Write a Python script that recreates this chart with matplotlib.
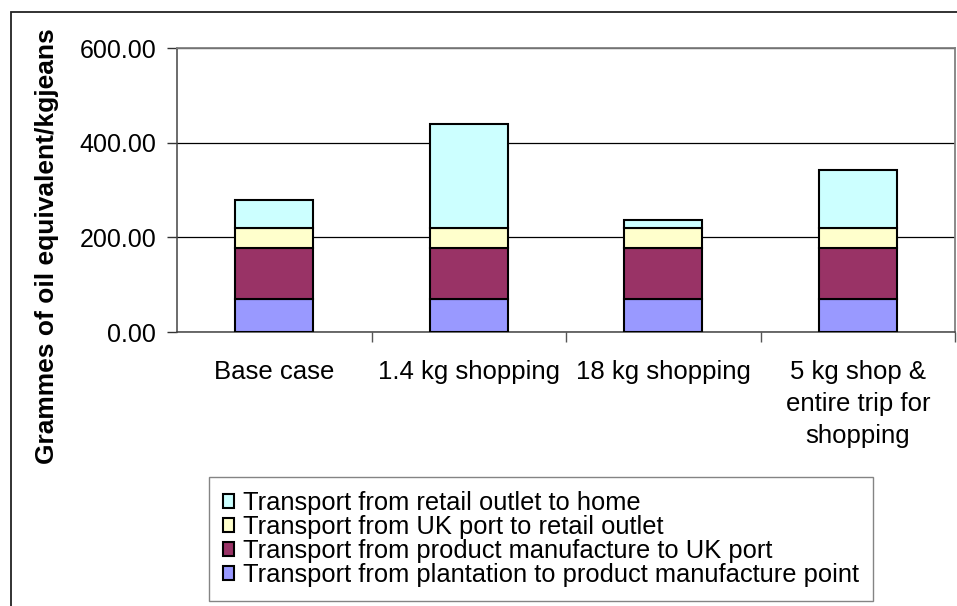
import numpy as np
import matplotlib.pyplot as plt
from matplotlib.patches import Rectangle

plt.rcParams['font.family'] = ['Liberation Sans', 'DejaVu Sans']

categories = ['Base case', '1.4 kg shopping', '18 kg shopping',
              '5 kg shop &\nentire trip for\nshopping']
plantation = [70, 70, 70, 70]
manufacture = [107, 107, 107, 107]
uk_port = [42, 42, 42, 42]
retail_home = [60, 220, 17, 123]

names = ['Transport from plantation to product manufacture point',
         'Transport from product manufacture to UK port',
         'Transport from UK port to retail outlet',
         'Transport from retail outlet to home']
colors = ['#9999FF', '#993366', '#FFFFCC', '#CCFFFF']

W, H = 957, 606
fig = plt.figure(figsize=(W / 100, H / 100), dpi=100)
ax = fig.add_axes([177 / W, 1 - 332 / H, (955 - 177) / W, (332 - 48) / H])

x = np.arange(len(categories))
bottom = np.zeros(len(categories))
handles = []
for vals, c, n in zip([plantation, manufacture, uk_port, retail_home], colors, names):
    b = ax.bar(x, vals, 0.4, bottom=bottom, color=c, edgecolor='black',
               linewidth=1.5, label=n, zorder=3)
    handles.append(b)
    bottom += np.array(vals)

ax.set_xlim(-0.5, 3.5)
ax.set_ylim(0, 600)
ax.set_yticks([0, 200, 400, 600])
ax.set_yticklabels(['%.2f' % v for v in [0, 200, 400, 600]], fontsize=18)
ax.yaxis.grid(True, color='black', linewidth=0.9)
ax.set_axisbelow(True)

ax.set_xticks(x)
ax.set_xticklabels(categories, fontsize=18.5, linespacing=1.42, va='top')
ax.tick_params(axis='x', length=0, pad=20)
ax.set_xticks([0.5, 1.5, 2.5, 3.5], minor=True)
ax.tick_params(axis='x', which='minor', length=7, color='#555555', width=1)
ax.tick_params(axis='y', length=7, width=1, color='#333333', pad=8)

for s in ['top', 'right']:
    ax.spines[s].set_color('#808080')
    ax.spines[s].set_linewidth(1.3)
for s in ['left', 'bottom']:
    ax.spines[s].set_color('#444444')
    ax.spines[s].set_linewidth(1.1)

fig.text(47 / W, 1 - 246 / H, 'Grammes of oil equivalent/kgjeans', rotation=90,
         fontsize=19, fontweight='bold', ha='center', va='center')

leg = fig.legend(handles[::-1], names[::-1], loc='upper left',
                 bbox_to_anchor=(209 / W, 1 - 477 / H), fontsize=18.4,
                 frameon=True, fancybox=False, edgecolor='#666666',
                 handlelength=0.42, handleheight=0.42, handletextpad=0.35,
                 labelspacing=0.0, borderpad=0.55, borderaxespad=0)
leg.get_frame().set_linewidth(1.0)

fig.patches.append(Rectangle((11 / W, -0.1), 2, 1.1 - 12 / H, transform=fig.transFigure,
                             fill=False, edgecolor='#222222', linewidth=1.3))

fig.savefig('out.png', dpi=100)
